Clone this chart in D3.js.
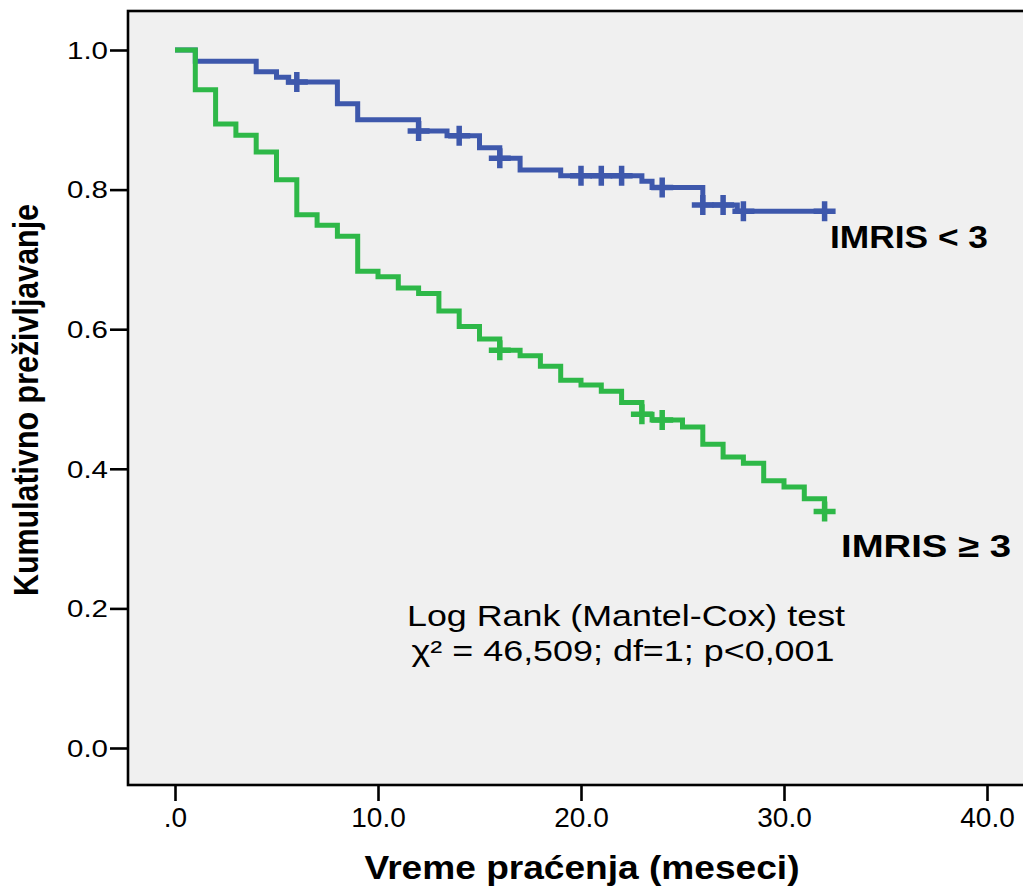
<!DOCTYPE html>
<html>
<head>
<meta charset="utf-8">
<script src="https://cdn.jsdelivr.net/npm/d3@7"></script>
<style>
  body { margin: 0; background: #fff; }
  svg { display: block; font-family: "Liberation Sans", Arial, sans-serif; }
</style>
</head>
<body>
<div id="chart"></div>
<script>
// Kaplan-Meier steps (time in months, cumulative survival)
var lowTimes = [0, 1, 4, 5, 5.6, 8, 9, 12, 13.4, 15, 16, 17, 19, 23, 23.5, 26, 27.7];
var lowSurv  = [1, .984, .969, .961, .954, .923, .900, .884, .877, .860, .845, .828, .820, .812, .803, .778, .769];
var lowCensored = [6, 12, 14, 16, 20, 21, 22, 24, 26, 27, 28, 32];
var lowEnd = 32;

var highTimes = [0, 1, 2, 3, 4, 5, 6, 7, 8, 9, 10, 11, 12, 13, 14, 15, 16, 17, 18, 19, 20, 21, 22, 23, 23.5, 25, 26, 27, 28, 29, 30, 31, 32];
var highSurv  = [1, .943, .894, .878, .854, .814, .764, .749, .733, .683, .675, .659, .651, .626, .604, .586, .570, .562, .547, .527, .520, .511, .495, .478, .470, .460, .435, .417, .408, .383, .374, .357, .339];
var highCensored = [16, 23, 24, 32];
var highEnd = 32;

var xTicks = [0, 10, 20, 30, 40];
var yTicks = [0, 0.2, 0.4, 0.6, 0.8, 1.0];

var width = 1023, height = 886;

var svg = d3.select("#chart").append("svg")
    .attr("width", width)
    .attr("height", height);

// plot frame, runs off the right edge like in the original
var frame = {left: 128, top: 11, bottom: 785};

svg.append("rect")
    .attr("x", frame.left)
    .attr("y", frame.top)
    .attr("width", width + 20 - frame.left)
    .attr("height", frame.bottom - frame.top)
    .attr("fill", "#f0f0f0")
    .attr("stroke", "#000")
    .attr("stroke-width", 2.6);

var x = d3.scaleLinear().domain([0, 40]).range([175, 987]);
var y = d3.scaleLinear().domain([0, 1]).range([748, 50]);

// y axis
var yAxis = d3.axisLeft(y)
    .tickValues(yTicks)
    .tickSize(18)
    .tickPadding(0)
    .tickFormat(d3.format(".1f"));

var gy = svg.append("g")
    .attr("transform", "translate(" + frame.left + ",0)")
    .call(yAxis);
gy.select(".domain").remove();
gy.selectAll(".tick line").attr("stroke", "#000").attr("stroke-width", 2.6);
gy.selectAll(".tick text")
    .attr("x", -20)
    .attr("dy", "0.36em")
    .attr("fill", "#000")
    .style("font-size", "23px")
    .attr("textLength", 41)
    .attr("lengthAdjust", "spacingAndGlyphs");

// x axis
var xAxis = d3.axisBottom(x)
    .tickValues(xTicks)
    .tickSize(16)
    .tickFormat(function(d) { return d === 0 ? ".0" : d.toFixed(1); });

var gx = svg.append("g")
    .attr("transform", "translate(0," + frame.bottom + ")")
    .call(xAxis);
gx.select(".domain").remove();
gx.selectAll(".tick line").attr("stroke", "#000").attr("stroke-width", 2.6);
gx.selectAll(".tick text")
    .attr("y", 42)
    .attr("dy", 0)
    .attr("fill", "#000")
    .style("font-size", "28px");

// axis titles
svg.append("text")
    .attr("transform", "translate(38,400) rotate(-90)")
    .attr("text-anchor", "middle")
    .style("font-size", "35px")
    .style("font-weight", "bold")
    .attr("textLength", 392)
    .attr("lengthAdjust", "spacingAndGlyphs")
    .text("Kumulativno preživljavanje");

svg.append("text")
    .attr("x", 582)
    .attr("y", 879)
    .attr("text-anchor", "middle")
    .style("font-size", "34px")
    .style("font-weight", "bold")
    .attr("textLength", 435)
    .attr("lengthAdjust", "spacingAndGlyphs")
    .text("Vreme praćenja (meseci)");

// survival curves
var survAt = function(times, surv, t) {
    return surv[d3.bisectRight(times, t) - 1];
};

var stepLine = d3.line()
    .x(function(d) { return x(d[0]); })
    .y(function(d) { return y(d[1]); })
    .curve(d3.curveStepAfter);

var drawCurve = function(times, surv, end, censored, color) {
    var pts = times.map(function(t, i) { return [t, surv[i]]; });
    pts.push([end, surv[surv.length - 1]]);

    svg.append("path")
        .datum(pts)
        .attr("d", stepLine)
        .attr("fill", "none")
        .attr("stroke", color)
        .attr("stroke-width", 5)
        .attr("stroke-linejoin", "miter");

    svg.append("g").selectAll("path")
        .data(censored)
        .enter().append("path")
        .attr("transform", function(d) {
            return "translate(" + x(d) + "," + y(survAt(times, surv, d)) + ")";
        })
        .attr("d", "M-11,0H11M0,-10V10")
        .attr("stroke", color)
        .attr("stroke-width", 5.5);
};

drawCurve(lowTimes, lowSurv, lowEnd, lowCensored, "#3e58ac");
drawCurve(highTimes, highSurv, highEnd, highCensored, "#2eb848");

// group labels
svg.append("text")
    .attr("x", 830)
    .attr("y", 248)
    .style("font-size", "32px")
    .style("font-weight", "bold")
    .attr("textLength", 158)
    .attr("lengthAdjust", "spacingAndGlyphs")
    .text("IMRIS < 3");

svg.append("text")
    .attr("x", 841)
    .attr("y", 557)
    .style("font-size", "32px")
    .style("font-weight", "bold")
    .attr("textLength", 170)
    .attr("lengthAdjust", "spacingAndGlyphs")
    .text("IMRIS \u2265 3");

// test annotation
svg.append("text")
    .attr("x", 626)
    .attr("y", 626)
    .attr("text-anchor", "middle")
    .style("font-size", "29px")
    .attr("textLength", 438)
    .attr("lengthAdjust", "spacingAndGlyphs")
    .text("Log Rank (Mantel-Cox) test");

svg.append("text")
    .attr("x", 623)
    .attr("y", 661)
    .attr("text-anchor", "middle")
    .style("font-size", "29px")
    .attr("textLength", 423)
    .attr("lengthAdjust", "spacingAndGlyphs")
    .text("\u03c7\u00b2 = 46,509; df=1; p<0,001");
</script>
</body>
</html>
